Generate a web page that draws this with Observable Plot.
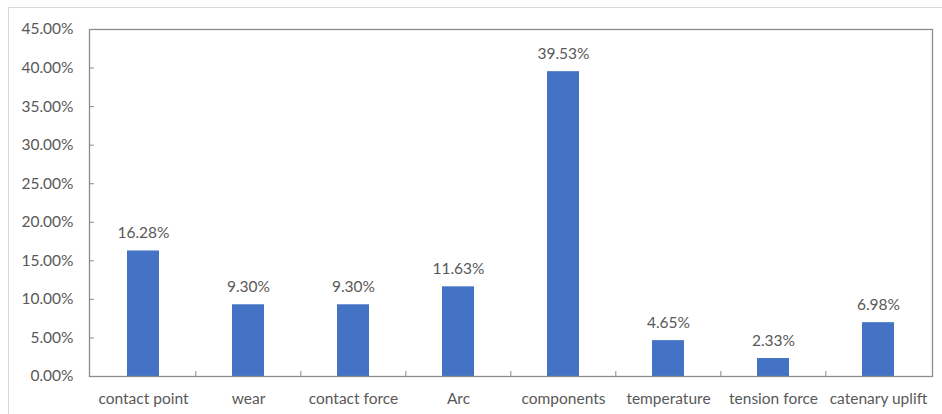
<!DOCTYPE html>
<html>
<head>
<meta charset="utf-8">
<script src="https://cdn.jsdelivr.net/npm/d3@7"></script>
<script src="https://cdn.jsdelivr.net/npm/@observablehq/plot@0.6"></script>
<style>
  html, body { margin: 0; padding: 0; background: #fff; }
  #wrap { position: relative; width: 942px; height: 414px; overflow: hidden; }
  #edge { position: absolute; left: 8px; top: 7px; width: 960px; height: 440px;
          border-left: 1.5px solid #d9d9d9; border-top: 1.5px solid #d9d9d9; pointer-events: none; }
</style>
</head>
<body>
<div id="wrap"><div id="edge"></div></div>
<script>
// Share of monitoring items (percent)
const categories = ["contact point", "wear", "contact force", "Arc", "components", "temperature", "tension force", "catenary uplift"];
const shares = [16.28, 9.30, 9.30, 11.63, 39.53, 4.65, 2.33, 6.98];
const yTicks = [0, 5, 10, 15, 20, 25, 30, 35, 40, 45];

const data = categories.map((c, i) => ({category: c, value: shares[i]}));
const fmt = d => d.toFixed(2) + "%";

const width = 942, height = 414;
const marginLeft = 89, marginRight = 10, marginTop = 29, marginBottom = 38;
const plotW = width - marginLeft - marginRight;
const plotH = height - marginTop - marginBottom;
const step = plotW / categories.length;
const tickLen = 5;
const axisColor = "#8c8c8c";

const chart = Plot.plot({
  width, height, marginLeft, marginRight, marginTop, marginBottom,
  style: {fontFamily: "Lato, 'Open Sans', sans-serif", fontSize: "15.5px", color: "#595959", background: "transparent"},
  x: {domain: categories, type: "band", paddingInner: 0.7, paddingOuter: 0.35, label: null},
  y: {domain: [0, 45], label: null},
  marks: [
    Plot.barY(data, {x: "category", y: "value", fill: "#4472C4"}),
    Plot.text(data, {x: "category", y: "value", text: d => fmt(d.value), dy: -18, fill: "#595959"}),
    // inward tick marks on the value axis
    Plot.tickY(yTicks, {y: d => d, stroke: axisColor, insetRight: plotW - tickLen}),
    // category separators on the baseline
    Plot.tickX(categories.slice(1), {x: d => d, dx: -step / 2, stroke: axisColor, insetTop: plotH - tickLen}),
    Plot.axisY(yTicks, {tickSize: 0, tickPadding: 16, tickFormat: fmt, fill: "#595959"}),
    Plot.axisX({tickSize: 0, tickPadding: 16, fill: "#595959"}),
    Plot.frame({stroke: axisColor, strokeWidth: 1.3})
  ]
});
document.getElementById("wrap").prepend(chart);
</script>
</body>
</html>
